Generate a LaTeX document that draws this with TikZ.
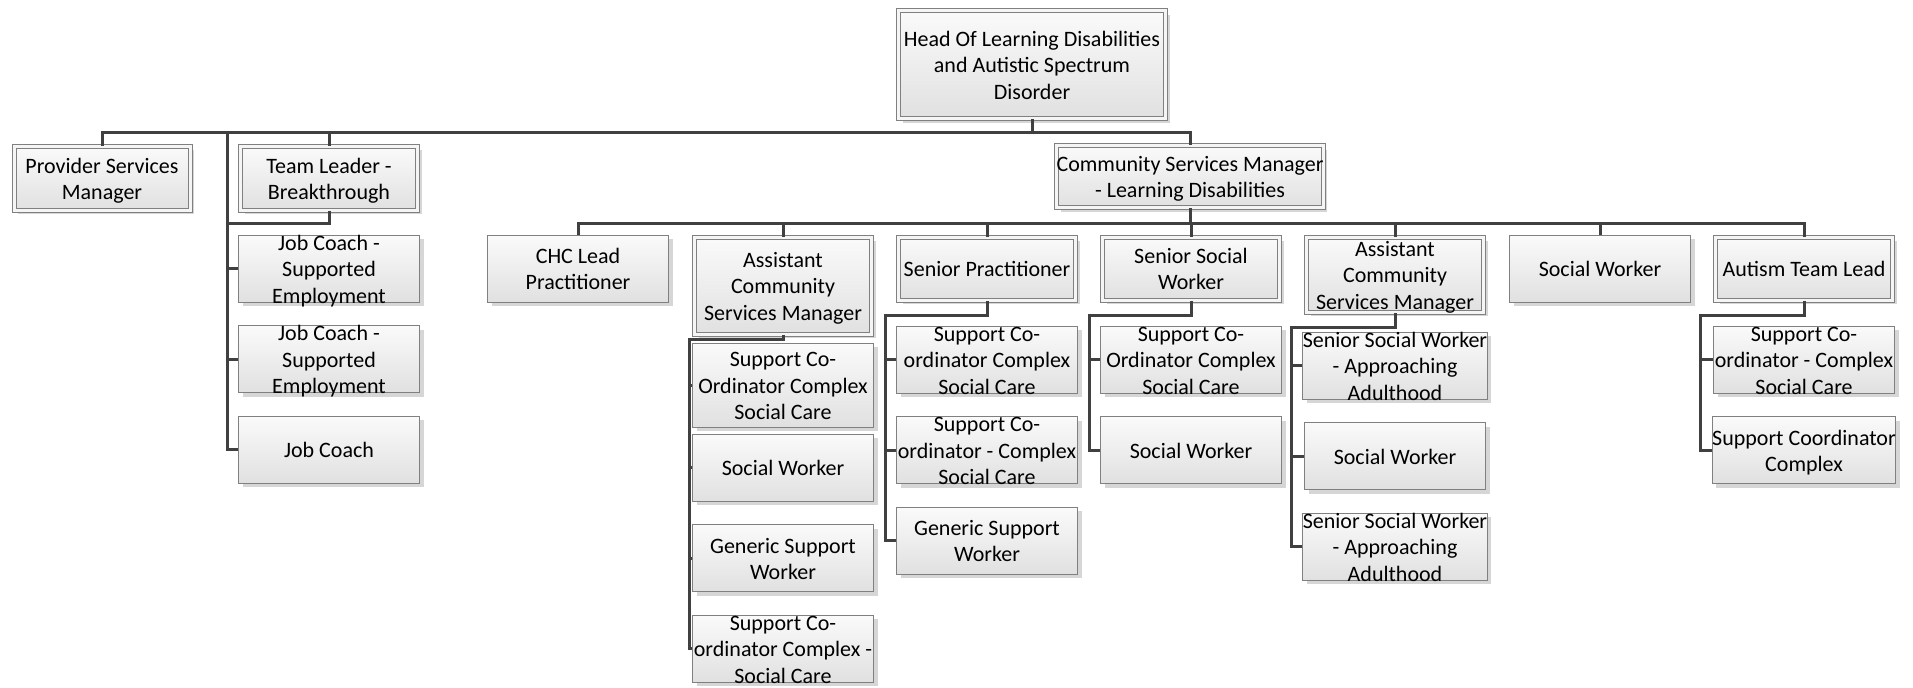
\documentclass[tikz,border=0pt]{standalone}
\usepackage{fontspec}
\setmainfont{Carlito}
\usetikzlibrary{positioning, shadows}

\newcommand{\roletext}[1]{\smash{\raisebox{-4pt}{\begin{tabular}{@{}c@{}}#1\end{tabular}}}}

\begin{document}
\begin{tikzpicture}[
x=0.5pt, y=-0.5pt,
node distance=11.25pt,
box/.style={draw=black!50,
line width=0.5pt,
top color=black!2,
bottom color=black!12,
drop shadow={shadow xshift=2pt, shadow yshift=-2pt, fill=black!16, opacity=1},
inner sep=0pt,
minimum width=90.5pt,
minimum height=33.5pt,
font=\fontsize{11}{13.2}\selectfont},
mgrbox/.style={box,
double=black!4,
double distance=1.5pt,
minimum width=88.5pt,
minimum height=31.5pt},
link/.style={draw=black!75, line width=1.5pt}
]

\useasboundingbox (0,0) rectangle (1913,688);

\coordinate (bus1) at (0,133);
\coordinate (bus2) at (0,224);
\coordinate (tlrail) at (227,133);

% top levels
\node[mgrbox, minimum width=133.5pt, minimum height=54pt] (head) at (1032,65) {\roletext{Head Of Learning Disabilities\\and Autistic Spectrum\\Disorder}};
\node[mgrbox, minimum width=88pt, minimum height=32pt] (prov) at (102,178.5) {\roletext{Provider Services\\Manager}};
\node[mgrbox, minimum height=32pt] (tl) at (329,178.5) {\roletext{Team Leader -\\Breakthrough}};
\node[mgrbox, minimum width=132.5pt, minimum height=31pt] (csm) at (1190,177) {\roletext{Community Services Manager\\- Learning Disabilities}};

\node[box] (chc) at (578,269) {\roletext{CHC Lead\\Practitioner}};
\node[mgrbox, minimum height=48.5pt] (acsm1) at (783,286) {\roletext{Assistant\\Community\\Services Manager}};
\node[mgrbox] (sp) at (987,269) {\roletext{Senior Practitioner}};
\node[mgrbox] (ssw) at (1191,269) {\roletext{Senior Social\\Worker}};
\node[mgrbox, minimum height=37.5pt] (acsm2) at (1395,275) {\roletext{Assistant\\Community\\Services Manager}};
\node[box] (sw) at (1600,269) {\roletext{Social Worker}};
\node[mgrbox] (atl) at (1804,269) {\roletext{Autism Team Lead}};

% team leader staff
\node[box] (jc1) at (329,269) {\roletext{Job Coach -\\Supported\\Employment}};
\node[box, below=of jc1] (jc2) {\roletext{Job Coach -\\Supported\\Employment}};
\node[box, below=of jc2] (jc3) {\roletext{Job Coach}};

% assistant csm staff
\node[box, minimum height=42pt] (a1scc) at (783,385.5) {\roletext{Support Co-\\Ordinator Complex\\Social Care}};
\node[box, below=3pt of a1scc] (a1sw) {\roletext{Social Worker}};
\node[box, below=of a1sw] (a1gsw) {\roletext{Generic Support\\Worker}};
\node[box, below=of a1gsw] (a1scc2) {\roletext{Support Co-\\ordinator Complex -\\Social Care}};

% senior practitioner staff
\node[box] (spscc1) at (987,360) {\roletext{Support Co-\\ordinator Complex\\Social Care}};
\node[box, below=of spscc1] (spscc2) {\roletext{Support Co-\\ordinator - Complex\\Social Care}};
\node[box, below=of spscc2] (spgsw) {\roletext{Generic Support\\Worker}};

% senior social worker staff
\node[box] (sswscc) at (1191,360) {\roletext{Support Co-\\Ordinator Complex\\Social Care}};
\node[box, below=of sswscc] (sswsw) {\roletext{Social Worker}};

% assistant csm staff (right)
\node[box] (a2ssw1) at (1395,366) {\roletext{Senior Social Worker\\- Approaching\\Adulthood}};
\node[box, below=of a2ssw1] (a2sw) {\roletext{Social Worker}};
\node[box, below=of a2sw] (a2ssw2) {\roletext{Senior Social Worker\\- Approaching\\Adulthood}};

% autism team staff
\node[box] (atlscc) at (1804,360) {\roletext{Support Co-\\ordinator - Complex\\Social Care}};
\node[box, below=of atlscc] (atlsc) {\roletext{Support Coordinator\\Complex}};

% first bus
\draw[link] (head.south) -- (head.south |- bus1) -| (prov.north);
\draw[link] (head.south |- bus1) -| (csm.north);
\draw[link] (tl.north) -- (tl.north |- bus1);

% team leader links
\draw[link] (tl.south) |- (tlrail |- bus2);
\draw[link] (tlrail) |- (jc3.west);
\foreach \c in {jc1,jc2} \draw[link] (\c.west) -- (tlrail |- \c.west);

% second bus
\draw[link] (csm.south) -- (csm.south |- bus2) -| (chc.north);
\draw[link] (csm.south |- bus2) -| (atl.north);
\foreach \n in {acsm1,sp,ssw,acsm2,sw} \draw[link] (\n.north) -- (\n.north |- bus2);

% staff links
\draw[link] (acsm1.south) -- ++(0,5) -| ([xshift=-1.5pt]a1scc2.west) -- (a1scc2.west);
\foreach \c in {a1scc,a1sw,a1gsw} \draw[link] (\c.west) -- ++(-1.5pt,0);

\draw[link] (sp.south) -- ++(0,14.5) -| ([xshift=-5.5pt]spgsw.west) -- (spgsw.west);
\foreach \c in {spscc1,spscc2} \draw[link] (\c.west) -- ++(-5.5pt,0);

\draw[link] (ssw.south) -- ++(0,14.5) -| ([xshift=-5.5pt]sswsw.west) -- (sswsw.west);
\draw[link] (sswscc.west) -- ++(-5.5pt,0);

\draw[link] (acsm2.south) -- ++(0,14.5) -| ([xshift=-5.5pt]a2ssw2.west) -- (a2ssw2.west);
\foreach \c in {a2ssw1,a2sw} \draw[link] (\c.west) -- ++(-5.5pt,0);

\draw[link] (atl.south) -- ++(0,14.5) -| ([xshift=-5.5pt]atlsc.west) -- (atlsc.west);
\draw[link] (atlscc.west) -- ++(-5.5pt,0);

\end{tikzpicture}
\end{document}
